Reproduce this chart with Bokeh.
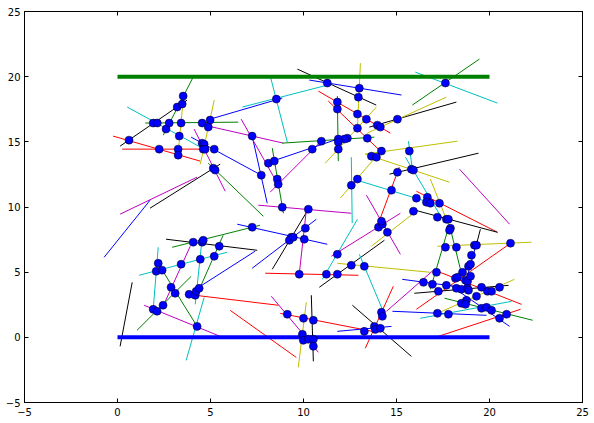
from bokeh.plotting import figure
from bokeh.models import ColumnDataSource, Range1d, LinearAxis, FixedTicker
from bokeh.embed import file_html
from bokeh.resources import INLINE

# Matplotlib classic colour codes
COL = {"b": "#0000ff", "g": "#008000", "r": "#ff0000", "c": "#00bfbf",
       "m": "#bf00bf", "y": "#bfbf00", "k": "#000000"}

# Needle segments: start x/y, end x/y, colour code
seg_x0 = [2.46, 0.14, 0.52, 1.49, -0.24, 0.25, 3.53, 5.20, 4.12, 3.96,
          4.98, 4.88, 7.24, 4.88, 1.75, 0.14, -0.72, 6.71, 8.21, 8.86,
          9.67, 10.31, 13.06, 10.80, 11.33, 11.82, 11.17, 13.54, 13.43, 15.85,
          16.01, 13.32, 13.32, 11.98, 14.62, 12.68, 12.57, 14.13, 18.39, 0.14,
          2.61, 2.94, 2.19, 1.16, 3.91, 2.41, 1.05, 1.43, 3.69, 4.55,
          5.68, 4.28, 3.75, 6.44, 8.32, 7.24, 6.06, 7.94, 8.27, 8.75,
          7.57, 9.77, 10.85, 11.01, 11.50, 11.82, 13.00, 13.32, 12.63, 11.82,
          14.78, 10.15, 10.42, 13.38, 13.65, 16.07, 15.80, 19.30, 16.82, 17.85,
          17.20, 16.07, 14.46, 15.31, 15.96, 17.20, 17.58, 16.28, 17.20, 17.09,
          17.95, 19.30, 15.48, 15.64, 16.82, 8.21, 8.48, 8.32, 6.65]
seg_y0 = [15.51, 14.67, 17.67, 16.44, 15.44, 14.44, 18.20, 18.20, 15.98, 15.36,
          16.74, 16.21, 15.44, 13.36, 9.91, 9.45, 6.14, 17.67, 20.05, 14.90,
          20.58, 19.74, 21.04, 18.89, 18.13, 18.51, 13.36, 16.13, 15.67, 17.82,
          20.35, 14.06, 14.06, 10.68, 12.52, 12.14, 13.82, 9.14, 12.90, -0.69,
          7.53, 6.91, 6.91, 4.76, 6.99, 5.15, 0.54, 2.46, -1.77, 7.60,
          7.83, 3.76, 3.30, 8.68, 5.22, 5.30, 2.07, 4.92, 3.15, 1.84,
          10.14, 4.84, 3.84, 4.45, 6.22, 5.68, 6.37, -0.84, 2.46, 0.46,
          2.00, 2.69, 3.23, 10.91, 6.99, 11.21, 9.83, 7.14, 3.69, 8.60,
          6.99, 2.15, 2.00, 4.45, 3.38, 5.07, 3.00, 1.46, 1.84, 0.00,
          3.92, 7.22, 13.82, 15.05, 12.14, 11.14, 13.59, 14.52, 16.74]
seg_x1 = [4.07, 3.74, 4.66, 6.49, 4.45, 4.55, 3.26, 4.45, 5.79, 7.73,
          8.86, 8.92, 8.05, 7.84, 5.52, 4.28, 1.75, 11.28, 9.13, 13.81,
          13.91, 15.27, 12.90, 14.67, 14.19, 11.87, 13.92, 18.22, 17.68, 19.46,
          20.43, 18.28, 17.85, 14.02, 19.41, 16.56, 12.62, 15.15, 21.08, 0.79,
          7.51, 7.67, 1.92, 5.90, 2.45, 4.28, 3.96, 5.79, 4.66, 4.18,
          4.28, 7.40, 8.65, 11.28, 10.26, 10.69, 9.61, 12.95, 10.80, 13.70,
          12.57, 10.15, 14.35, 12.90, 15.21, 16.82, 14.35, 14.83, 15.80, 14.73,
          19.84, 9.72, 10.53, 15.21, 16.07, 20.43, 20.43, 19.51, 17.85, 18.49,
          22.26, 21.13, 17.04, 18.12, 21.02, 21.72, 22.32, 21.18, 21.34, 21.67,
          21.08, 18.60, 17.41, 15.85, 17.85, 10.90, 11.98, 8.92, 8.65]
seg_y1 = [19.97, 18.20, 14.44, 16.51, 13.52, 14.44, 14.13, 13.29, 11.21, 12.44,
          18.36, 14.90, 10.29, 9.29, 13.29, 12.29, 10.52, 19.35, 14.98, 15.36,
          17.82, 18.59, 16.05, 15.67, 14.21, 13.52, 17.67, 18.05, 18.43, 21.35,
          17.97, 15.05, 11.90, 14.06, 14.13, 10.45, 8.76, 13.06, 8.68, 4.22,
          6.68, 8.60, 2.15, 6.53, 2.38, 0.84, 4.68, -0.08, 3.07, 2.53,
          3.30, 6.61, 2.46, 7.14, 9.83, 9.06, -1.54, 4.76, -1.15, 0.46,
          9.52, 9.75, 7.45, 9.06, 9.52, 4.99, 1.77, 3.92, -1.46, 0.84,
          1.69, -2.30, -1.84, 6.37, 9.68, 8.06, 8.06, 8.29, 8.68, 4.92,
          7.30, 7.22, 5.22, 3.92, 3.99, 2.53, 1.31, 2.76, 4.45, 2.15,
          0.84, 3.61, 9.22, 12.98, 8.45, 14.98, 15.28, 9.52, 11.67]
seg_code = ["g", "k", "c", "g", "r", "r", "y", "y", "m", "b",
            "b", "m", "b", "g", "k", "m", "b", "c", "c", "g",
            "k", "b", "y", "r", "r", "g", "y", "k", "y", "g",
            "c", "y", "y", "y", "k", "c", "c", "r", "m", "k",
            "k", "g", "c", "c", "m", "g", "g", "m", "c", "c",
            "g", "b", "r", "b", "k", "b", "r", "r", "m", "r",
            "m", "m", "k", "c", "m", "y", "c", "r", "k", "b",
            "b", "y", "k", "m", "y", "r", "k", "k", "g", "g",
            "y", "r", "m", "b", "k", "r", "g", "c", "y", "r",
            "b", "b", "c", "c", "y", "m", "b", "g", "m"]

# Intersection points
dot_x = [0.62, 1.92, 2.14, 2.61, 2.78, 3.21, 3.48, 3.53, 3.42, 3.32,
         2.24, 3.26, 3.26, 4.55, 4.98, 4.88, 4.55, 4.66, 4.61, 4.71,
         5.20, 5.15, 5.25, 7.24, 7.73, 8.54, 8.11, 8.43, 8.59, 8.64,
         8.86, 11.28, 13.00, 12.95, 11.82, 11.82, 12.90, 13.38, 12.90, 13.97,
         14.13, 15.05, 13.43, 12.36, 12.20, 11.87, 11.87, 10.96, 10.47, 11.87,
         14.19, 13.65, 13.92, 15.69, 15.80, 15.91, 15.05, 14.73, 12.90, 12.57,
         16.07, 16.66, 16.61, 16.82, 17.31, 17.63, 10.26, 4.07, 4.55, 4.61,
         5.47, 7.24, 9.34, 9.24, 9.45, 2.19, 2.08, 2.40, 3.42, 4.45,
         5.20, 2.88, 3.10, 3.85, 4.18, 4.23, 4.39, 2.45, 1.92, 2.13,
         4.28, 9.77, 9.13, 10.10, 10.04, 11.82, 11.23, 11.82, 12.57, 13.27,
         14.03, 14.24, 14.19, 14.51, 15.91, 17.20, 17.68, 17.79, 17.90, 17.85,
         17.63, 18.22, 19.19, 19.30, 19.03, 18.87, 18.98, 18.55, 17.15, 16.45,
         16.93, 17.68, 18.17, 18.28, 18.71, 18.82, 18.98, 18.22, 18.49, 18.82,
         18.87, 17.25, 19.30, 19.57, 19.89, 20.11, 20.54, 18.76, 18.49, 18.71,
         19.57, 19.84, 20.11, 20.54, 20.92, 17.20, 17.79, 21.13, 10.00, 10.53,
         9.94, 9.99, 10.26, 10.53, 10.53, 13.27, 13.81, 13.86, 14.13, 14.19,
         14.24]
dot_y = [15.13, 16.44, 16.44, 15.98, 16.44, 17.67, 17.90, 18.51, 16.44, 15.44,
         14.44, 14.44, 13.98, 16.44, 16.67, 16.13, 14.90, 14.82, 14.44, 14.44,
         14.44, 12.98, 12.83, 15.44, 12.44, 18.28, 13.36, 13.52, 12.14, 11.75,
         9.98, 19.51, 19.12, 18.43, 18.05, 17.51, 17.13, 16.74, 16.05, 16.28,
         16.13, 16.74, 15.28, 15.28, 15.21, 15.21, 14.98, 15.05, 14.44, 14.44,
         14.29, 13.90, 13.82, 14.29, 12.90, 12.83, 12.67, 11.29, 12.14, 11.67,
         10.68, 10.75, 10.37, 10.29, 10.29, 19.51, 9.83, 7.30, 7.30, 7.45,
         6.99, 8.45, 7.68, 7.45, 7.68, 5.68, 5.07, 5.15, 5.61, 5.99,
         6.22, 3.84, 3.38, 3.30, 3.23, 3.53, 3.76, 2.46, 2.15, 2.00,
         0.84, 4.84, 1.77, 8.37, 7.53, 6.37, 4.84, 4.84, 5.53, 5.45,
         8.45, 8.68, 8.91, 8.06, 9.68, 9.22, 9.06, 9.06, 8.37, 8.22,
         6.91, 6.91, 7.07, 7.07, 6.30, 5.45, 5.61, 4.99, 4.99, 4.22,
         4.07, 3.99, 4.53, 4.61, 4.38, 4.30, 4.69, 3.76, 3.69, 3.76,
         3.61, 3.53, 3.15, 3.84, 3.53, 3.53, 3.84, 2.84, 2.61, 2.53,
         2.23, 2.30, 2.07, 1.46, 1.77, 1.84, 1.77, 7.22, 1.46, 1.31,
         0.23, -0.23, -0.15, -0.15, -0.69, 0.46, 0.84, 0.61, 0.69, 1.92,
         1.61]

# Two parallel floor lines
line_y = [20, 0]
line_x0 = [0, 0]
line_x1 = [20, 20]
line_code = ["g", "b"]

ticks = [-5, 0, 5, 10, 15, 20, 25]
tick_labels = {-5: "\u22125"}

p = figure(width=594, height=423, output_backend="svg", toolbar_location=None,
           x_range=Range1d(-5, 25), y_range=Range1d(-5, 25))
p.min_border_left = 24
p.min_border_right = 12
p.min_border_top = 11
p.min_border_bottom = 21
p.xgrid.visible = False
p.ygrid.visible = False
p.outline_line_color = "black"
p.outline_line_width = 1
p.background_fill_color = "white"
p.border_fill_color = "white"

for ax in (p.xaxis[0], p.yaxis[0]):
    ax.ticker = FixedTicker(ticks=ticks)
    ax.major_label_overrides = tick_labels
    ax.major_tick_in = 4
    ax.major_tick_out = 0
    ax.minor_tick_line_color = None
    ax.major_label_text_font = "DejaVu Sans"
    ax.major_label_text_font_size = "10px"
    ax.major_label_text_color = "black"
    ax.axis_line_color = "black"
    ax.major_tick_line_color = "black"
p.xaxis[0].major_label_standoff = 5
p.yaxis[0].major_label_standoff = 4

# Mirrored inward ticks on the top and right edges (no labels)
for side in ("right", "above"):
    ax = LinearAxis(ticker=FixedTicker(ticks=ticks), major_tick_in=4, major_tick_out=0,
                    minor_tick_line_color=None, major_label_text_color=None,
                    major_label_text_font_size="0px", major_label_standoff=0,
                    axis_line_color="black")
    p.add_layout(ax, side)

seg_src = ColumnDataSource(dict(x0=seg_x0, y0=seg_y0, x1=seg_x1, y1=seg_y1,
                                color=[COL[c] for c in seg_code]))
p.segment("x0", "y0", "x1", "y1", source=seg_src, line_color="color", line_width=1)

line_src = ColumnDataSource(dict(x0=line_x0, x1=line_x1, y=line_y,
                                 color=[COL[c] for c in line_code]))
p.segment("x0", "y", "x1", "y", source=line_src, line_color="color", line_width=4)

p.scatter(dot_x, dot_y, size=8, fill_color="#0000ff", line_color="#000000",
          line_width=0.5)

open("out.html", "w").write(file_html(p, INLINE))
